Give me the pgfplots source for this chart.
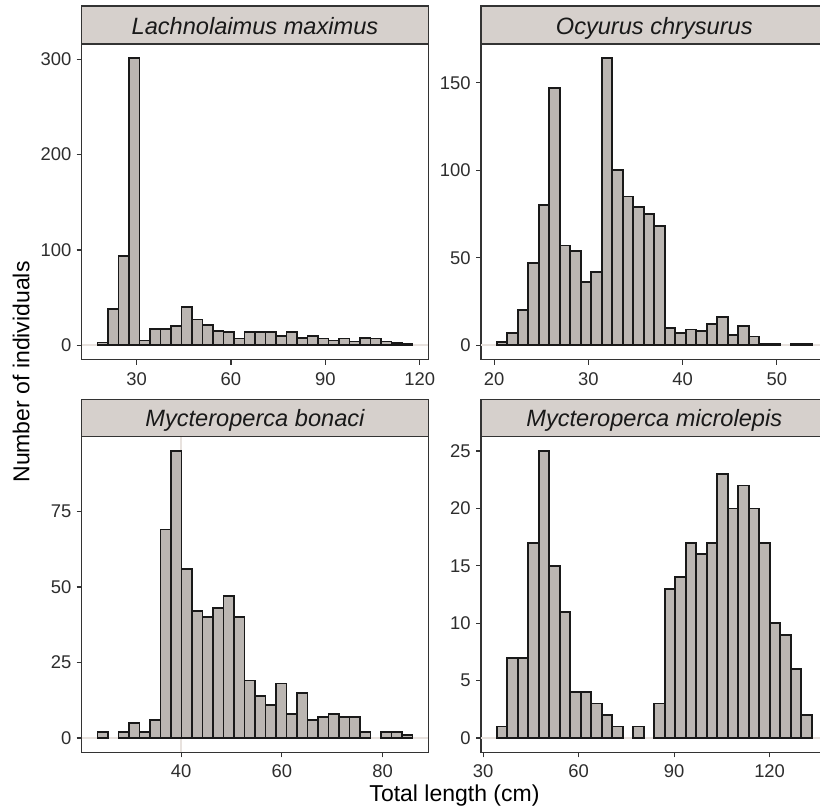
\documentclass[border=0pt]{standalone}
\usepackage{fontspec}
\setmainfont{Liberation Sans}
\usepackage{pgfplots}
\pgfplotsset{compat=1.18}

\definecolor{barfill}{RGB}{187,182,178}
\definecolor{stripfill}{RGB}{214,208,204}
\definecolor{frame}{RGB}{51,51,51}
\definecolor{zeroln}{RGB}{232,226,222}
\definecolor{ticktext}{RGB}{45,45,45}

\pgfplotsset{
  panel/.style={
    width=173.25pt, height=157.8pt, scale only axis, anchor=north west,
    axis line style={draw=frame, line width=0.6pt},
    tick align=outside, major tick length=2.5pt,
    xtick pos=left, ytick pos=left,
    tick style={draw=frame, line width=0.6pt},
    ticklabel style={font=\fontsize{9.2}{11}\selectfont, text=ticktext},
    /pgf/number format/assume math mode=true,
    xticklabel style={inner sep=0pt, yshift=-3.7pt},
    yticklabel style={inner sep=0pt, xshift=-2.5pt},
  },
  hist/.style={ybar, bar shift=0pt, bar width=#1, fill=barfill,
    draw=black!90, line width=0.9pt},
  zero/.style={zeroln, line width=1pt, forget plot},
}

\begin{document}
\begin{tikzpicture}
% facet strips
\tikzset{strip/.style={fill=stripfill, draw=frame, line width=0.6pt}}
\draw[strip] (40.85pt,-3pt) rectangle (214.1pt,-22pt);
\draw[strip] (240.5pt,-3pt) rectangle (413.75pt,-22pt);
\draw[strip] (40.85pt,-199.65pt) rectangle (214.1pt,-218.35pt);
\draw[strip] (240.5pt,-199.65pt) rectangle (413.75pt,-218.35pt);
\tikzset{striptext/.style={anchor=base, font=\fontsize{11.8}{14}\selectfont\itshape, text=black!90}}
\node[striptext] at (127.475pt,-17pt) {Lachnolaimus maximus};
\node[striptext] at (327.125pt,-17pt) {Ocyurus chrysurus};
\node[striptext] at (127.475pt,-213.4pt) {Mycteroperca bonaci};
\node[striptext] at (327.125pt,-213.4pt) {Mycteroperca microlepis};

% Lachnolaimus maximus
\begin{axis}[panel, at={(40.85pt,-22pt)},
  xmin=12.57, xmax=122.68, ymin=-15.05, ymax=316.05,
  xtick={30,60,90,120}, ytick={0,100,200,300}]
\addplot[zero] coordinates {(12.57,0) (122.68,0)};
\addplot[hist=3.337] coordinates {
 (19.24,3) (22.58,38) (25.91,94) (29.25,301) (32.59,5) (35.93,17)
 (39.26,17) (42.60,20) (45.94,40) (49.27,27) (52.61,21) (55.95,15)
 (59.29,14) (62.62,7) (65.96,14) (69.30,14) (72.63,14) (75.97,10)
 (79.31,14) (82.64,8) (85.98,10) (89.32,7) (92.66,5) (95.99,7)
 (99.33,4) (102.67,8) (106.00,7) (109.34,4) (112.68,2) (116.01,1)};
\end{axis}

% Ocyurus chrysurus
\begin{axis}[panel, at={(240.5pt,-22pt)},
  xmin=18.61, xmax=55.37, ymin=-8.2, ymax=172.2,
  xtick={20,30,40,50}, ytick={0,50,100,150}]
\addplot[zero] coordinates {(18.61,0) (55.37,0)};
\addplot[hist=1.114] coordinates {
 (20.84,2) (21.95,7) (23.07,20) (24.18,47) (25.29,80) (26.41,147)
 (27.52,57) (28.64,54) (29.75,36) (30.86,42) (31.98,164) (33.09,100)
 (34.20,85) (35.32,79) (36.43,75) (37.55,68) (38.66,10) (39.77,7)
 (40.89,9) (42.00,8) (43.11,12) (44.23,16) (45.34,6) (46.45,11)
 (47.57,5) (48.68,1) (49.80,1) (52.02,1) (53.14,1)};
\end{axis}

% Mycteroperca bonaci
\begin{axis}[panel, at={(40.85pt,-218.35pt)},
  xmin=20.24, xmax=89.07, ymin=-4.75, ymax=99.75,
  xtick={40,60,80}, ytick={0,25,50,75}]
\addplot[zero] coordinates {(20.24,0) (89.07,0)};
\addplot[zero] coordinates {(40,-4.75) (40,99.75)};
\addplot[hist=2.0857] coordinates {
 (24.41,2) (28.58,2) (30.67,5) (32.76,2) (34.84,6)
 (36.93,69) (39.02,95) (41.10,56) (43.19,42) (45.27,40) (47.36,43)
 (49.45,47) (51.53,40) (53.62,19) (55.71,14) (57.79,11) (59.88,18)
 (61.97,8) (64.05,15) (66.14,6) (68.22,7) (70.31,8) (72.40,7)
 (74.48,7) (76.57,2) (80.74,2) (82.83,2) (84.90,1)};
\end{axis}

% Mycteroperca microlepis
\begin{axis}[panel, at={(240.5pt,-218.35pt)},
  xmin=29.33, xmax=138.19, ymin=-1.25, ymax=26.25,
  xtick={30,60,90,120}, ytick={0,5,10,15,20,25}]
\addplot[zero] coordinates {(29.33,0) (138.19,0)};
\addplot[hist=3.2987] coordinates {
 (35.93,1) (39.23,7) (42.53,7) (45.83,17) (49.13,25) (52.43,15)
 (55.72,11) (59.02,4) (62.32,4) (65.62,3) (68.92,2) (72.22,1)
 (78.82,1) (85.42,3) (88.72,13) (92.02,14)
 (95.32,17) (98.62,16) (101.92,17) (105.22,23) (108.51,20) (111.81,22)
 (115.11,20) (118.41,17) (121.71,10) (125.01,9) (128.31,6) (131.61,2)};
\end{axis}

% axis titles
\node[anchor=base, font=\fontsize{11.5}{14}\selectfont] at (227.25pt,-400.85pt) {Total length (cm)};
\node[anchor=base, rotate=90, font=\fontsize{11.5}{14}\selectfont] at (14.65pt,-186pt) {Number of individuals};

\pgfresetboundingbox
\path[use as bounding box] (0pt,0pt) rectangle (410pt,-405pt);
\end{tikzpicture}
\end{document}
